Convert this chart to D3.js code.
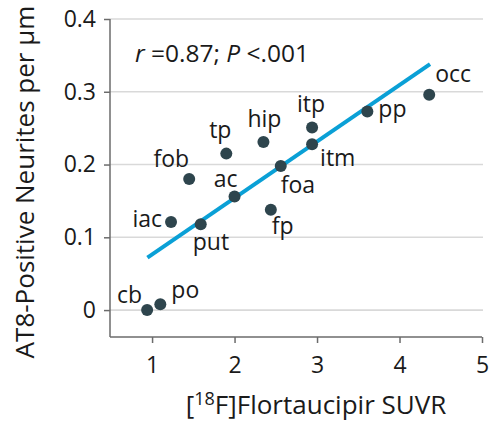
<!DOCTYPE html>
<html>
<head>
<meta charset="utf-8">
<script src="https://cdn.jsdelivr.net/npm/d3@7"></script>
<style>
  html, body { margin: 0; padding: 0; background: #fff; }
  svg text { font-family: "Open Sans", "Noto Sans", sans-serif; fill: #1a1a1a; }
</style>
</head>
<body>
<svg id="chart" width="490" height="425"></svg>
<script>
// ---- data ----
const regions = ["cb", "po", "iac", "put", "ac", "fob", "tp", "hip", "foa", "fp", "itp", "itm", "pp", "occ"];
const suvr =    [0.94, 1.10, 1.23, 1.59, 2.00, 1.45, 1.90, 2.35, 2.56, 2.44, 2.94, 2.94, 3.61, 4.36];
const neurites = [0.000, 0.008, 0.121, 0.118, 0.156, 0.180, 0.215, 0.231, 0.198, 0.138, 0.251, 0.228, 0.273, 0.296];
const fitX = [0.944, 4.37];
const fitY = [0.072, 0.338];
const xTicks = [1, 2, 3, 4, 5];
const yTicks = [0, 0.1, 0.2, 0.3, 0.4];
const yTickLabels = ["0", "0.1", "0.2", "0.3", "0.4"];

// ---- label placement (layout only): [dx, dy, anchor] ----
const labelPlacement = {
  cb: [-5, -7, "end"], po: [11, -6, "start"], iac: [-9, 5, "end"], put: [-8, 26, "start"],
  ac: [-9, -10, "middle"], fob: [0, -12, "end"], tp: [-6, -16, "middle"], hip: [1, -15, "middle"],
  foa: [0, 27, "start"], fp: [1, 24, "start"], itp: [-1, -15, "middle"], itm: [8, 22, "start"],
  pp: [11, 6, "start"], occ: [6, -13, "start"]
};

const FS = 23;
const svg = d3.select("#chart");
const x = d3.scaleLinear().domain([0.49, 5]).range([110, 482]);
const y = d3.scaleLinear().domain([-0.037, 0.4]).range([337, 19]);

// gridlines
svg.append("g").selectAll("line").data(yTicks).join("line")
  .attr("x1", 110).attr("x2", 483)
  .attr("y1", d => y(d)).attr("y2", d => y(d))
  .attr("stroke", "#d9d9d9").attr("stroke-width", 1.6);

// axes
const yAxis = svg.append("g").attr("transform", "translate(110,0)")
  .call(d3.axisLeft(y).tickValues(yTicks).tickFormat((d, i) => yTickLabels[i]).tickSize(6).tickPadding(8));
const xAxis = svg.append("g").attr("transform", "translate(0,337)")
  .call(d3.axisBottom(x).tickValues(xTicks).tickFormat(d3.format("d")).tickSize(6).tickPadding(14));
[yAxis, xAxis].forEach(a => {
  a.select(".domain").attr("stroke", "#6b6b6b").attr("stroke-width", 1.5);
  a.selectAll(".tick line").attr("stroke", "#6b6b6b").attr("stroke-width", 1.5);
  a.selectAll("text").attr("font-size", FS).attr("fill", "#1a1a1a")
    .attr("font-family", "'Open Sans', sans-serif");
});
yAxis.select(".domain").attr("d", `M0,${y(0.4)}V337`);
xAxis.select(".domain").attr("d", `M110,0H${x(5)}`);

// fit line
svg.append("line")
  .attr("x1", x(fitX[0])).attr("y1", y(fitY[0]))
  .attr("x2", x(fitX[1])).attr("y2", y(fitY[1]))
  .attr("stroke", "#0aa0d6").attr("stroke-width", 4);

// points
const pts = regions.map((r, i) => ({ r, x: suvr[i], y: neurites[i] }));
svg.append("g").selectAll("circle").data(pts).join("circle")
  .attr("cx", d => x(d.x)).attr("cy", d => y(d.y)).attr("r", 6)
  .attr("fill", "#2e454d");

// point labels
svg.append("g").selectAll("text").data(pts).join("text")
  .attr("x", d => x(d.x) + labelPlacement[d.r][0])
  .attr("y", d => y(d.y) + labelPlacement[d.r][1])
  .attr("text-anchor", d => labelPlacement[d.r][2])
  .attr("font-size", FS)
  .text(d => d.r);

// stats annotation
const ann = svg.append("text").attr("x", 135).attr("y", 62).attr("font-size", 24.5);
ann.append("tspan").attr("font-style", "italic").text("r");
ann.append("tspan").text(" =0.87; ");
ann.append("tspan").attr("font-style", "italic").text("P");
ann.append("tspan").text(" <.001");

// axis titles
const xt = svg.append("text").attr("x", 316).attr("y", 414).attr("text-anchor", "middle").attr("font-size", 26);
xt.append("tspan").text("[");
xt.append("tspan").attr("font-size", 18).attr("dy", -9).text("18");
xt.append("tspan").attr("dy", 9).text("F]Flortaucipir SUVR");

svg.append("text")
  .attr("transform", "translate(34,182) rotate(-90)")
  .attr("text-anchor", "middle").attr("font-size", 26)
  .text("AT8-Positive Neurites per μm");
</script>
</body>
</html>
